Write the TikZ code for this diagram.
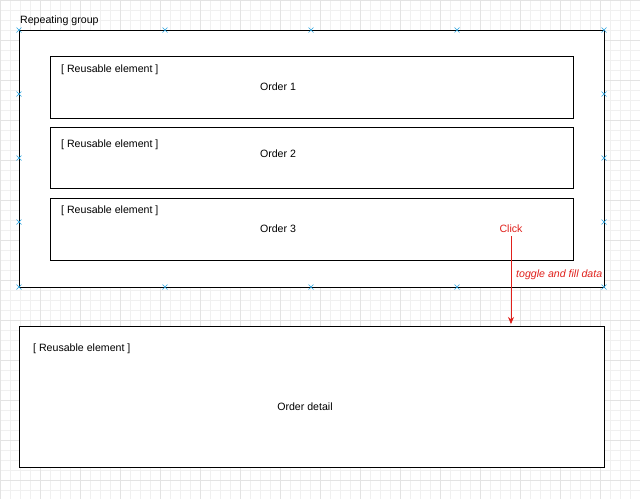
\documentclass[tikz,border=0pt]{standalone}
\usepackage{fontspec}
\setmainfont{Liberation Sans}
\usetikzlibrary{arrows.meta}
\definecolor{gridc}{HTML}{F0F0F0}
\definecolor{gridd}{HTML}{E3E3E3}
\definecolor{redc}{HTML}{E0201B}
\definecolor{handle}{HTML}{29A3E0}
\begin{document}
\begin{tikzpicture}[x=1pt,y=-1pt,
  box/.style={draw=black,line width=0.8pt,fill=white},
  lbl/.style={font=\fontsize{10.6}{12}\selectfont,inner sep=0pt},
  red/.style={lbl,text=redc},
  mk/.style={handle,line width=0.6pt}]
\useasboundingbox (0,0) rectangle (640,499);
\fill[white] (0,0) rectangle (640,499);
\foreach \i in {0,10,...,640} \draw[gridc,line width=0.4pt] (\i,0)--(\i,499);
\foreach \i in {0,10,...,499} \draw[gridc,line width=0.4pt] (0,\i)--(640,\i);
\foreach \i in {0,40,...,640} \draw[gridd,line width=0.5pt] (\i,0)--(\i,499);
\foreach \i in {0,40,...,499} \draw[gridd,line width=0.5pt] (0,\i)--(640,\i);
% outer group
\draw[box] (19,30) rectangle (604,287);
\node[lbl,anchor=west] (rg) at (20,21) {Repeating group};
\foreach \x in {19,165,311,457,604}{
  \draw[mk] (\x-2.5,27.5)--(\x+2.5,32.5) (\x-2.5,32.5)--(\x+2.5,27.5);
  \draw[mk] (\x-2.5,284.5)--(\x+2.5,289.5) (\x-2.5,289.5)--(\x+2.5,284.5);}
\foreach \y in {94,158,222}{
  \draw[mk] (16.5,\y-2.5)--(21.5,\y+2.5) (16.5,\y+2.5)--(21.5,\y-2.5);
  \draw[mk] (601.5,\y-2.5)--(606.5,\y+2.5) (601.5,\y+2.5)--(606.5,\y-2.5);}
% inner boxes
\draw[box] (50,56) rectangle (573,118);
\node[lbl,anchor=west] (r1) at (61,70) {[ Reusable element ]};
\node[lbl] (o1) at (278,87) {Order 1};
\draw[box] (50,127) rectangle (573,188);
\node[lbl,anchor=west] (r2) at (61,145) {[ Reusable element ]};
\node[lbl] (o2) at (278,154) {Order 2};
\draw[box] (50,198) rectangle (573,260);
\node[lbl,anchor=west] (r3) at (61,211) {[ Reusable element ]};
\node[lbl] (o3) at (278,229) {Order 3};
\node[red,inner sep=3pt] (click) at (511,229) {Click};
% detail box
\draw[box] (19,326) rectangle (604,467);
\coordinate (dtop) at (511,324);
\node[lbl,anchor=west] (r4) at (33,349) {[ Reusable element ]};
\node[lbl] (od) at (305,407) {Order detail};
\draw[redc,line width=0.8pt,-{Stealth[length=7pt,width=6pt]}] (click.south) -- (dtop);
\node[red,anchor=west,font=\fontsize{10.6}{12}\selectfont\itshape] (tf) at (516,275) {toggle and fill data};
\end{tikzpicture}
\end{document}
